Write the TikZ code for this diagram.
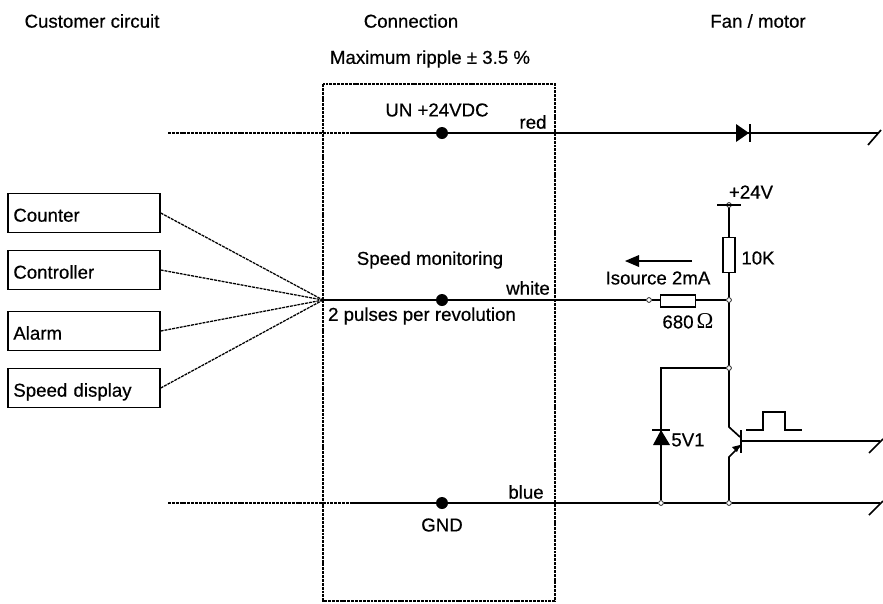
\documentclass[tikz,border=0pt]{standalone}
\usepackage{fontspec}
\setmainfont{Liberation Sans}[FakeBold=0.5]
\newfontfamily\omegafont{Liberation Serif}
\newcommand{\Lbl}{\fontsize{14}{16}\selectfont}
\tikzset{
  lbl/.style={inner sep=0pt,font=\Lbl},
  devicebox/.style={draw,line width=1.1pt,minimum width=114pt,minimum height=29pt,inner sep=0pt,font=\Lbl,text width=106pt,text height=13pt,text depth=0pt,align=left},
  res/.style={draw,line width=1pt,fill=white,inner sep=0pt},
  wire/.style={line width=1.25pt},
  feed/.style={line width=0.95pt,dash pattern=on 2.2pt off 0.7pt},
  bigdot/.style={circle,fill=black,inner sep=0pt,minimum size=9pt},
  smalldot/.style={circle,draw,line width=0.5pt,inner sep=0pt,minimum size=3.6pt}
}
\begin{document}
\begin{tikzpicture}[x=0.75pt,y=-0.75pt]
\useasboundingbox (0,0) rectangle (883,604);
\node[lbl] (customer) at (92,21) {Customer circuit};
\node[lbl] (connection) at (411,21) {Connection};
\node[lbl] (fanmotor) at (758,21) {Fan / motor};
\node[lbl] (ripple) at (430,59) {Maximum ripple ± 3.5 \%};

\node[devicebox] (counter) at (84,213) {Counter};
\node[devicebox] (controller) at (84,270) {Controller};
\node[devicebox] (alarm) at (84,331) {Alarm};
\node[devicebox] (speeddisp) at (84,388) {Speed display};

\coordinate (hub) at (323,300);
\coordinate (redL) at (168,133);
\coordinate (redM) at (350,133);
\coordinate (redR) at (879,133);
\coordinate (blueL) at (168,503);
\coordinate (blueM) at (350,503);
\coordinate (blueR) at (880,503);
\coordinate (baseR) at (880,441);
\coordinate (zenerTop) at (661,368);

\node[bigdot] (dotRed) at (442,133) {};
\node[bigdot] (dotWhite) at (442,300) {};
\node[bigdot] (dotBlue) at (442,503) {};
\node[smalldot] (supply) at (729,205) {};
\node[smalldot] (pinWhite) at (649,300) {};
\node[smalldot] (juncR) at (729,300) {};
\node[smalldot] (juncC) at (729,368) {};
\node[smalldot] (juncZ) at (661,503) {};
\node[smalldot] (juncE) at (729,503) {};

\node[lbl] (un) at (437,110) {UN +24VDC};
\node[lbl] (red) at (533,122) {red};
\node[lbl] (monitor) at (430,260) {Speed monitoring};
\node[lbl] (white) at (528,288) {white};
\node[lbl] (pulses) at (422,316) {2 pulses per revolution};
\node[lbl] (blue) at (526,492) {blue};
\node[lbl] (gnd) at (442,525) {GND};
\node[lbl] (plus24) at (751,192) {+24V};
\node[lbl] (tenk) at (758,258) {10K};
\node[lbl] (isource) at (658,278) {Isource 2mA};
\node[lbl] (ohm) at (688,321) {680\,{\omegafont\fontsize{17}{17}\selectfont Ω}};
\node[lbl] (zener) at (688,440) {5V1};

% box in the middle
\draw[feed] (323,84) rectangle (555,601);

\draw[feed] (redL) -- (redM);
\draw[feed] (blueL) -- (blueM);
\draw[feed] (counter.east) -- (hub);
\draw[feed] (controller.east) -- (hub);
\draw[feed] (alarm.east) -- (hub);
\draw[feed] (speeddisp.east) -- (hub);

\draw[wire] (redM) -- (dotRed) -- (redR);
\draw[wire] (redR) +(-11,12) -- +(2,-3);
\draw[wire] (blueM) -- (dotBlue) -- (juncZ) -- (juncE) -- (blueR);
\draw[wire] (blueR) +(-11,12) -- +(3,-2);
\draw[wire] (hub) -- (dotWhite) -- (pinWhite) -- (juncR);
\draw[wire] (717,205) -- (741,205);
\draw[wire] (supply) -- (juncR) -- (juncC) -- (729,427) -- (740,437);
\draw[wire] (juncC) -- (zenerTop) -- (juncZ);
\draw[wire] (juncE) -- (729,457) -- (741,445);
\draw[wire] (741,441) -- (baseR);
\draw[wire] (baseR) +(-11,12) -- +(3,-2);

\node[res,minimum width=9pt,minimum height=26pt] (r10k) at (729,255) {};
\node[res,minimum width=26pt,minimum height=9pt] (r680) at (678,301) {};

% diode on the red wire
\fill (736,124) -- (749,133) -- (736,142) -- cycle;
\draw[line width=1.3pt] (750,124) -- (750,142);
% zener
\fill (661,430) -- (670,445) -- (653,445) -- cycle;
\draw[line width=1.3pt] (652,430) -- (670,430);
% transistor
\draw[line width=1.3pt] (741,430) -- (741,453);
\fill (740,445) -- (737,452) -- (732,447) -- cycle;
% pulse
\draw[wire] (746,430) -- (763,430) -- (763,412) -- (785,412) -- (785,430) -- (802,430);
% current arrow
\draw[wire] (692,261) -- (630,261);
\fill (625,261) -- (639,255) -- (639,267) -- cycle;
\end{tikzpicture}
\end{document}
